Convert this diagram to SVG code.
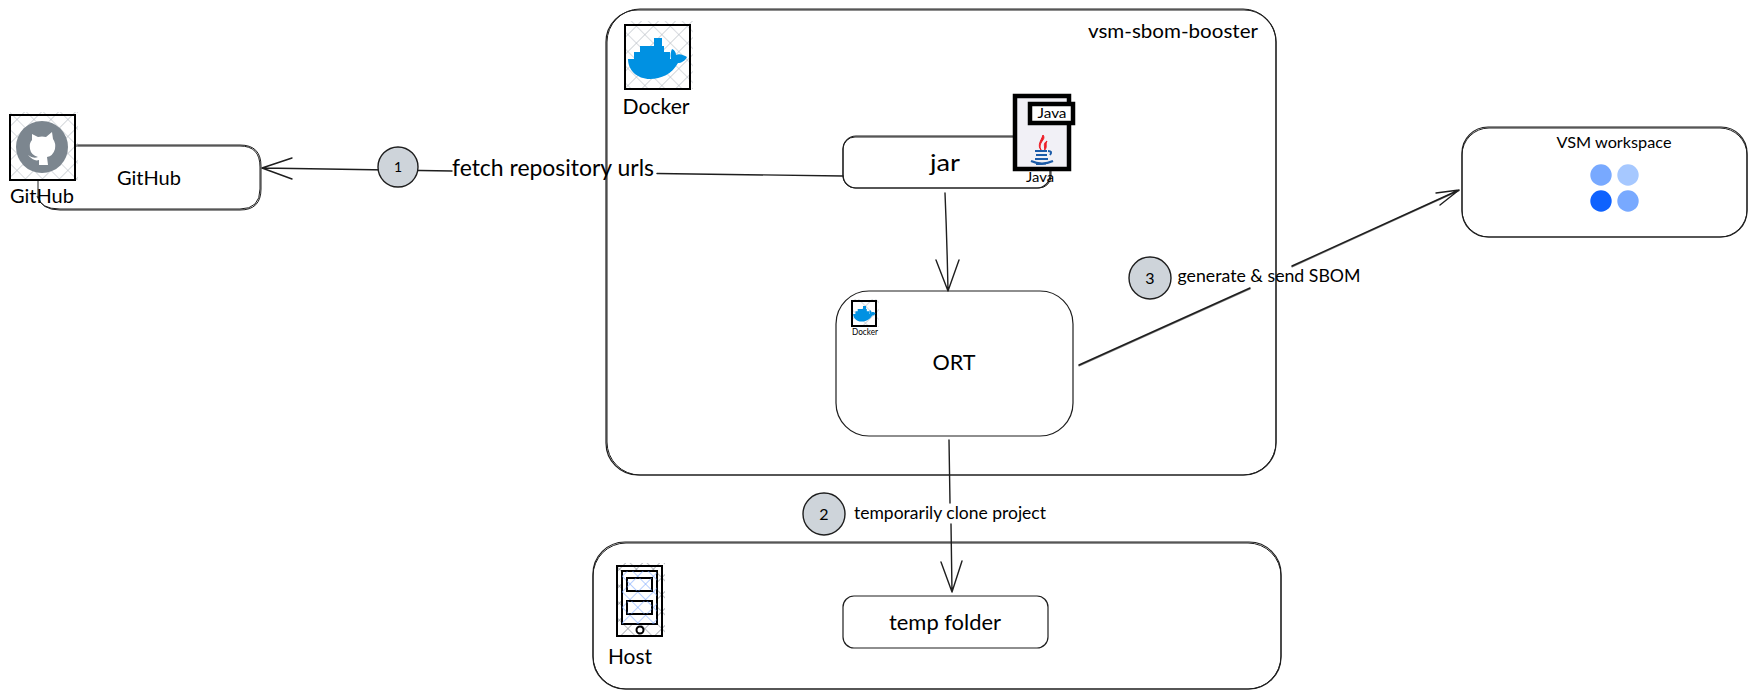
<svg xmlns="http://www.w3.org/2000/svg" width="1757" height="699" viewBox="0 0 1757 699">
<style>
.b{fill:none;stroke:#1e1e1e;stroke-width:1}
.w{fill:#fff;stroke:#1e1e1e;stroke-width:1.2}
.c{fill:none;stroke:#1e1e1e;stroke-width:1.4;stroke-linecap:round;stroke-linejoin:round}
.n{fill:#ced4da;stroke:#1e1e1e;stroke-width:1.4}
text{font-family:"Lato","Noto Sans",sans-serif;fill:#000;text-anchor:middle}
.whale{fill:#0091e2}
</style>
<defs>
<pattern id="h" width="12" height="12" patternUnits="userSpaceOnUse" patternTransform="rotate(45)">
<path d="M0 0H12M0 0V12" stroke="#b4bac2" stroke-width="1.2" fill="none"/>
</pattern>
<pattern id="hd" width="12" height="12" patternUnits="userSpaceOnUse" patternTransform="rotate(45)">
<path d="M0 0H12M0 0V12" stroke="#7c828a" stroke-width="1.2" fill="none"/>
</pattern>
<pattern id="hb" width="11" height="11" patternUnits="userSpaceOnUse" patternTransform="rotate(45)">
<path d="M0 0H11M0 0V11" stroke="#6ea0ff" stroke-width="1" fill="none"/>
</pattern>
<g id="whale" class="whale">
<path d="M3 34H46C45 30 46 26 47 24C50 25 51 28 51 30C54 28 59 30 62 32C60 36 56 38 53 38C47 49 36 54 25 54C12 54 3 45 3 34Z"/>
<path d="M15 21H27V34H15ZM27 21H39V34H27ZM29 13H37V21H29ZM9 27H15V34H9ZM39 27H45V34H39Z"/>
</g>
</defs>

<g id="docker-container">
<rect class="w" x="606" y="10" width="670" height="465" rx="32"/>
<rect class="b" x="607" y="9" width="669" height="466" rx="33"/>
<text x="1173" y="38" font-size="20" textLength="170" lengthAdjust="spacingAndGlyphs">vsm-sbom-booster</text>
</g>
<g id="docker-icon">
<rect x="625" y="21" width="68" height="68" fill="url(#h)"/>
<rect x="625" y="25" width="65" height="64" fill="none" stroke="#000" stroke-width="2"/>
<use href="#whale" transform="translate(625,25)"/>
<text x="656" y="114" font-size="21" textLength="67" lengthAdjust="spacingAndGlyphs">Docker</text>
</g>

<g id="host-container">
<rect class="w" x="593" y="542" width="688" height="147" rx="32"/>
<rect class="b" x="593" y="543" width="688" height="146" rx="33"/>
</g>
<g id="host-icon">
<rect x="617" y="563" width="48" height="74" fill="url(#hd)"/>
<rect x="617" y="566" width="45" height="70" fill="none" stroke="#000" stroke-width="2"/>
<rect x="622" y="571" width="35" height="53" fill="#fff" stroke="#000" stroke-width="2"/>
<rect x="622" y="571" width="35" height="53" fill="url(#hb)"/>
<rect x="627" y="578" width="25" height="13" fill="#fff" stroke="#000" stroke-width="2"/>
<rect x="627" y="578" width="25" height="13" fill="url(#hb)"/>
<rect x="627" y="601" width="25" height="13" fill="#fff" stroke="#000" stroke-width="2"/>
<rect x="627" y="601" width="25" height="13" fill="url(#hb)"/>
<circle cx="640" cy="630" r="3.500" fill="#fff" stroke="#000" stroke-width="2"/>
<text x="630" y="664" font-size="21" textLength="44" lengthAdjust="spacingAndGlyphs">Host</text>
</g>
<g id="temp-folder">
<rect class="w" x="843" y="596" width="205" height="52" rx="11"/>
<text x="945" y="630" font-size="22" textLength="112" lengthAdjust="spacingAndGlyphs">temp folder</text>
</g>

<g id="github-node">
<path class="b" d="M75 145H240Q261 145 261 166V189Q261 210 240 210H60Q41 210 38 196V180"/>
<path class="b" d="M75 146H240Q260 146 260 167V189Q260 209 240 209H60Q40 209 37 196"/>
<text x="149" y="185" font-size="19" textLength="64" lengthAdjust="spacingAndGlyphs">GitHub</text>
</g>
<g id="github-icon">
<rect x="10" y="112" width="68" height="68" fill="url(#h)"/>
<rect x="10" y="115" width="65" height="65" fill="none" stroke="#000" stroke-width="2"/>
<circle cx="42" cy="147" r="26" fill="#7c868f"/>
<path fill="#fff" d="M32 134L38 137Q42 136 46 137L52 132L53 139Q56 143 55 149Q53 156 47 157L48 165H39V160Q34 162 28 155Q33 159 38 157Q31 155 30 149Q29 143 32 140Z"/>
<text x="42" y="203" font-size="19" textLength="64" lengthAdjust="spacingAndGlyphs">GitHub</text>
</g>

<g id="jar">
<rect class="w" x="843" y="136" width="207" height="52" rx="13"/>
<rect class="b" x="843" y="137" width="208" height="51" rx="12"/>
<text x="945" y="171" font-size="23" textLength="30" lengthAdjust="spacingAndGlyphs">jar</text>
</g>
<g id="java-icon">
<rect x="1015" y="96" width="54" height="73" fill="#f1f0f6" stroke="#000" stroke-width="4.500"/>
<rect x="1030" y="104" width="43" height="19" fill="#fff" stroke="#000" stroke-width="4.500"/>
<text x="1052" y="118" font-size="13" textLength="29" lengthAdjust="spacingAndGlyphs">Java</text>
<path fill="#ee1c25" stroke="#ee1c25" d="M1043 135C1047 140 1037 142 1041 150C1037 145 1041 141 1043 135ZM1047 141C1042 144 1046 147 1044 151C1048 147 1045 144 1047 141Z"/>
<path d="M1035 151H1047M1036 155H1047M1035 159H1048M1031 161Q1042 166 1053 161M1036 164H1046M1048 151Q1053 151 1050 155" fill="none" stroke="#1c5ba8" stroke-width="2"/>
<text x="1040" y="182" font-size="13" textLength="28" lengthAdjust="spacingAndGlyphs">Java</text>
</g>

<g id="ort">
<rect class="w" x="836" y="291" width="237" height="145" rx="33"/>
<text x="954" y="370" font-size="22" textLength="43" lengthAdjust="spacingAndGlyphs">ORT</text>
</g>
<g id="ort-docker-icon">
<rect x="852" y="299" width="27" height="28" fill="url(#h)"/>
<rect x="852" y="301" width="24" height="25" fill="none" stroke="#000" stroke-width="2"/>
<use href="#whale" transform="translate(852,301) scale(.38)"/>
<text x="865" y="335" font-size="9" textLength="26" lengthAdjust="spacingAndGlyphs">Docker</text>
</g>

<g id="vsm-workspace">
<rect class="w" x="1462" y="127" width="285" height="110" rx="26"/>
<rect class="b" x="1462" y="128" width="285" height="109" rx="27"/>
<text x="1614" y="148" font-size="16" textLength="115" lengthAdjust="spacingAndGlyphs">VSM workspace</text>
<circle cx="1601" cy="175" r="10.700" fill="#78a9ff"/>
<circle cx="1628" cy="175" r="10.700" fill="#a6c8ff"/>
<circle cx="1601" cy="201" r="10.700" fill="#0f62fe"/>
<circle cx="1628" cy="201" r="10.700" fill="#78a9ff"/>
</g>

<g id="connectors">
<path class="c" d="M843 176L657 173.500M452 171L262 168M262 168L292 158M262 168L292 179"/>
<path class="c" d="M945 193Q947 240 948 291M948 291L936 260M948 291L959 260"/>
<path class="c" d="M949 440L950 503M951 524L952 592M952 592L941 562M952 592L962 561"/>
<path class="c" d="M1079 365L1250 288M1292 266L1459 190M1459 190L1436 193M1459 190L1440 205"/>
<path class="c" d="M1079 365.800L1250 288.800M1292 266.800L1459 190.500" stroke-opacity=".6"/>
</g>

<g id="label-fetch"><text x="553" y="176" font-size="23" textLength="202" lengthAdjust="spacingAndGlyphs">fetch repository urls</text></g>
<g id="badge-1">
<circle class="n" cx="398" cy="167" r="20"/>
<text x="398" y="172" font-size="14">1</text>
</g>
<g id="badge-2">
<circle class="n" cx="824" cy="514" r="21"/>
<text x="824" y="520" font-size="16">2</text>
</g>
<g id="label-clone"><text x="950" y="519" font-size="18" textLength="192" lengthAdjust="spacingAndGlyphs">temporarily clone project</text></g>
<g id="badge-3">
<circle class="n" cx="1150" cy="278" r="21"/>
<text x="1150" y="284" font-size="16">3</text>
</g>
<g id="label-send"><text x="1269" y="282" font-size="16.500" textLength="183" lengthAdjust="spacingAndGlyphs">generate &amp; send SBOM</text></g>
</svg>
